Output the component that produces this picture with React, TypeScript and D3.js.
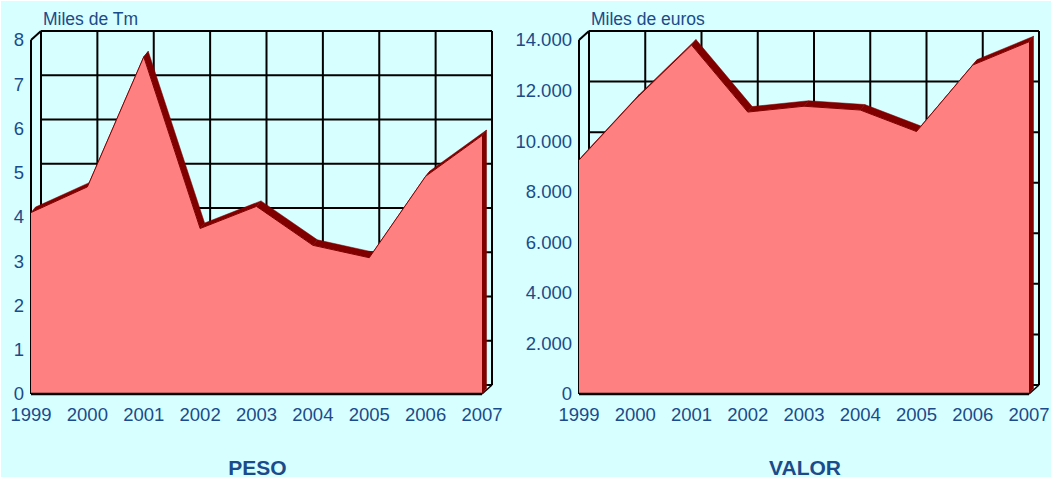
import React from "react";
import * as d3 from "d3";

const years = ["1999", "2000", "2001", "2002", "2003", "2004", "2005", "2006", "2007"];
const pesoValues = [4.1, 4.68, 7.62, 3.74, 4.24, 3.36, 3.08, 4.92, 5.84];
const valorValues = [9250, 11650, 13800, 11150, 11380, 11230, 10380, 13010, 13930];
const pesoTicks = [0, 1, 2, 3, 4, 5, 6, 7, 8];
const valorTicks = [0, 2000, 4000, 6000, 8000, 10000, 12000, 14000];

const BG = "#d7ffff";
const FILL = "#ff8080";
const DARK = "#800000";
const TEXT = "#1b4b8a";
const FONT = "'Liberation Sans', Arial, sans-serif";

const es = d3.formatLocale({ decimal: ",", thousands: ".", grouping: [3], currency: ["", "€"] });
const fmtThousands = es.format(",");

// depth of the walls and of the area series
const wall = { dx: 10, dy: -9 };
const band = { dx: 4.5, dy: -5.5 };

type PanelProps = {
  values: number[];
  ticks: number[];
  max: number;
  left: number;
  right: number;
  unit: string;
  title: string;
  fmt: (v: number) => string;
};

function Panel({ values, ticks, max, left, right, unit, title, fmt }: PanelProps) {
  const x = d3.scaleLinear().domain([0, years.length - 1]).range([left, right]);
  const y = d3.scaleLinear().domain([0, max]).range([394, 40]);
  const y0 = y(0);
  const yTop = y(max);

  const pts = values.map((v, i) => [x(i), y(v)] as [number, number]);
  const area = d3.area<[number, number]>().x(d => d[0]).y0(y0).y1(d => d[1]);
  const line = d3.line();

  const faces: string[] = [];
  for (let i = 0; i < pts.length - 1; i++) {
    const a = pts[i], b = pts[i + 1];
    faces.push(line([a, b, [b[0] + band.dx, b[1] + band.dy], [a[0] + band.dx, a[1] + band.dy]])! + "Z");
  }
  const last = pts[pts.length - 1];
  faces.push(
    line([last, [last[0], y0], [last[0] + band.dx, y0 + band.dy], [last[0] + band.dx, last[1] + band.dy]])! + "Z"
  );

  const bx0 = left + wall.dx, bx1 = right + wall.dx;
  return (
    <g>
      {/* back wall grid */}
      {ticks.map(t => (
        <line key={"h" + t} x1={bx0} x2={bx1} y1={y(t) + wall.dy} y2={y(t) + wall.dy} stroke="#000" strokeWidth={2} />
      ))}
      {years.map((yr, i) => (
        <line key={"v" + yr} x1={x(i) + wall.dx} x2={x(i) + wall.dx} y1={yTop + wall.dy} y2={y0 + wall.dy} stroke="#000" strokeWidth={2} />
      ))}
      {/* left wall and floor edges */}
      <line x1={left} y1={yTop} x2={bx0} y2={yTop + wall.dy} stroke="#000" strokeWidth={2} />
      <line x1={right} y1={y0} x2={bx1} y2={y0 + wall.dy} stroke="#000" strokeWidth={1.5} />
      <line x1={left} y1={yTop} x2={left} y2={y0} stroke="#000" strokeWidth={2} />

      {/* series */}
      {faces.map((d, i) => (
        <path key={i} d={d} fill={DARK} stroke={DARK} strokeWidth={0.5} strokeLinejoin="round" />
      ))}
      <path d={area(pts)!} fill={FILL} />
      <path d={line(pts)!} fill="none" stroke={DARK} strokeWidth={1} />
      <line x1={left} y1={y0} x2={right} y2={y0} stroke="#000" strokeWidth={2.5} />

      {/* labels */}
      {ticks.map(t => (
        <text key={"t" + t} x={left - 7} y={y(t)} dy="0.35em" textAnchor="end" fontSize={18.5} fill={TEXT}>
          {fmt(t)}
        </text>
      ))}
      {years.map((yr, i) => (
        <text key={"x" + yr} x={x(i)} y={421} textAnchor="middle" fontSize={18.5} fill={TEXT}>
          {yr}
        </text>
      ))}
      <text x={left + 12} y={25} fontSize={17.5} fill={TEXT}>{unit}</text>
      <text x={(left + right) / 2 + 1} y={475} textAnchor="middle" fontSize={21} fontWeight="bold" fill={TEXT}>
        {title}
      </text>
    </g>
  );
}

export default function App() {
  return (
    <svg
      width={1052}
      height={478}
      style={{ position: "absolute", left: 0, top: 0, fontFamily: FONT }}
    >
      <rect x={0.5} y={0.5} width={1051} height={477} fill={BG} stroke="#fff" />
      <Panel values={pesoValues} ticks={pesoTicks} max={8} left={31} right={482}
        unit="Miles de Tm" title="PESO" fmt={v => String(v)} />
      <Panel values={valorValues} ticks={valorTicks} max={14000} left={579} right={1029}
        unit="Miles de euros" title="VALOR" fmt={v => fmtThousands(v)} />
    </svg>
  );
}
